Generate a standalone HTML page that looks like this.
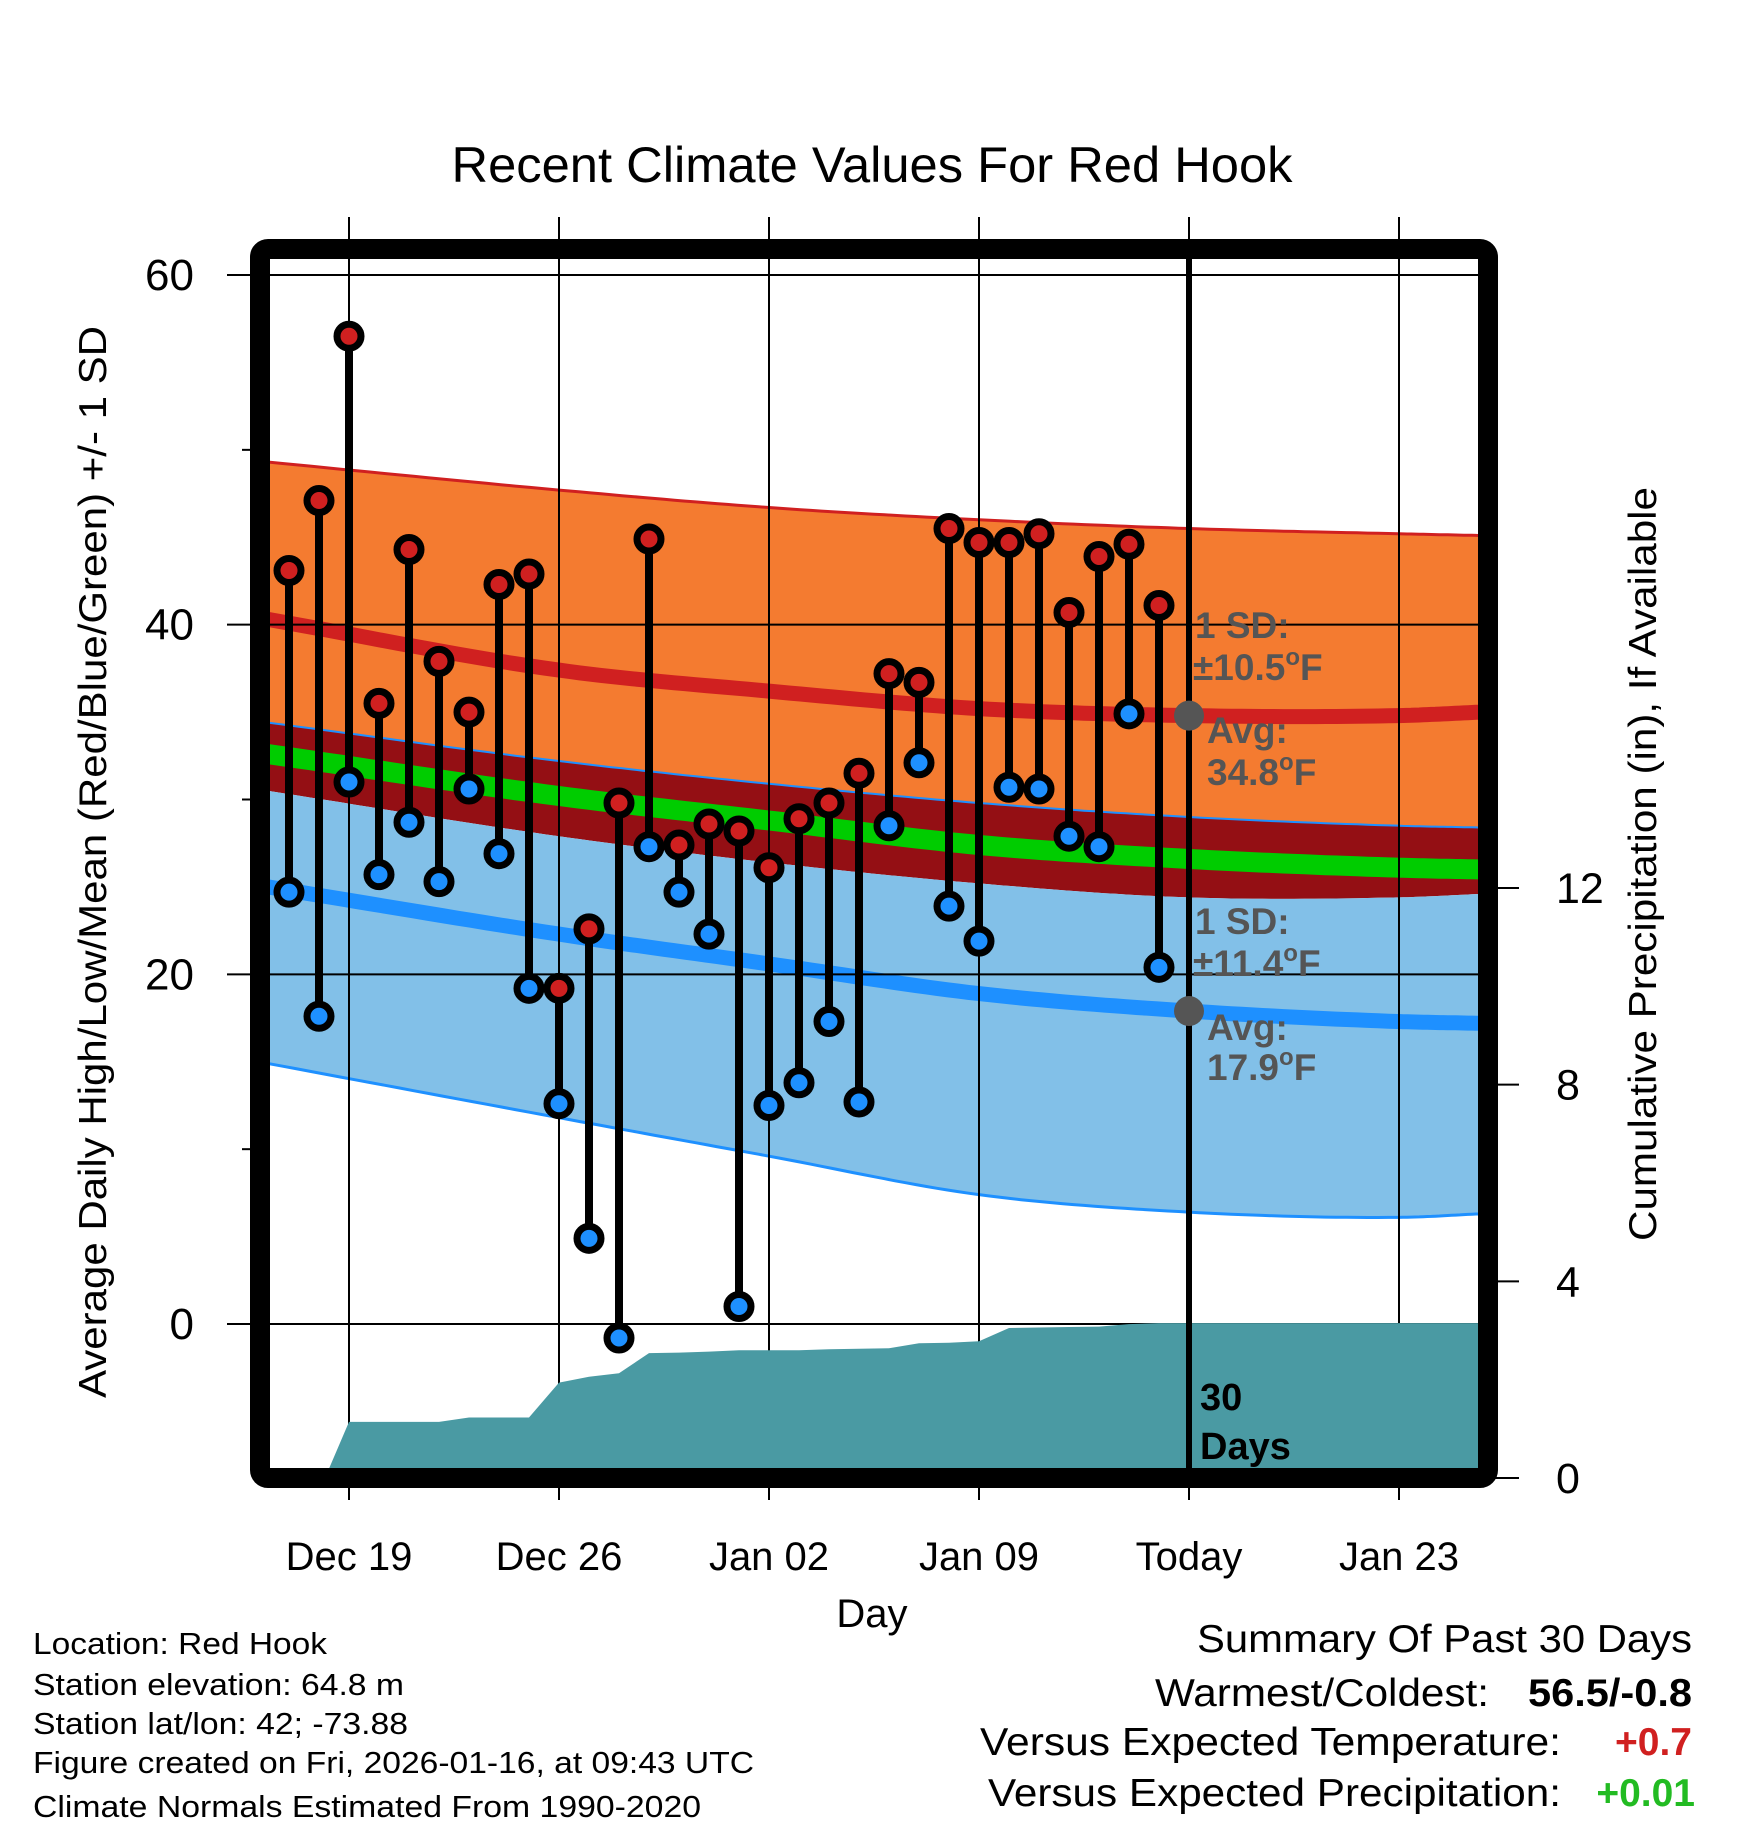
<!DOCTYPE html>
<html><head><meta charset="utf-8"><style>
html,body{margin:0;padding:0;background:#fff;}
svg{display:block;font-family:"Liberation Sans",sans-serif;}
</style></head><body>
<svg id="chart" width="1748" height="1828" viewBox="0 0 1748 1828" xmlns="http://www.w3.org/2000/svg">
<defs><clipPath id="plotclip"><rect x="270" y="260" width="1208" height="1208"/></clipPath></defs>
<g id="fills" clip-path="url(#plotclip)"></g>
<g id="grid"></g>
<g id="precip" clip-path="url(#plotclip)"></g>
<g id="marks"></g>
<rect x="260" y="249" width="1228" height="1229" rx="8" fill="none" stroke="#000" stroke-width="20"/>
<text x="872" y="182" font-size="50" text-anchor="middle" textLength="841" lengthAdjust="spacingAndGlyphs">Recent Climate Values For Red Hook</text>
<text transform="translate(106,862) rotate(-90)" font-size="39" text-anchor="middle" textLength="1072" lengthAdjust="spacingAndGlyphs">Average Daily High/Low/Mean (Red/Blue/Green) +/- 1 SD</text>
<text transform="translate(1656,864) rotate(-90)" font-size="39" text-anchor="middle" textLength="754" lengthAdjust="spacingAndGlyphs">Cumulative Precipitation (in), If Available</text>
<text x="872" y="1627" font-size="40" text-anchor="middle">Day</text>
<g font-size="31">
<text x="33" y="1654" textLength="294" lengthAdjust="spacingAndGlyphs">Location: Red Hook</text>
<text x="33" y="1695" textLength="371" lengthAdjust="spacingAndGlyphs">Station elevation: 64.8 m</text>
<text x="33" y="1734" textLength="375" lengthAdjust="spacingAndGlyphs">Station lat/lon: 42; -73.88</text>
<text x="33" y="1773" textLength="721" lengthAdjust="spacingAndGlyphs">Figure created on Fri, 2026-01-16, at 09:43 UTC</text>
<text x="33" y="1817" textLength="668" lengthAdjust="spacingAndGlyphs">Climate Normals Estimated From 1990-2020</text>
</g>
<g font-size="39" text-anchor="end">
<text x="1692" y="1652" textLength="495" lengthAdjust="spacingAndGlyphs">Summary Of Past 30 Days</text>
<text x="1489" y="1706" textLength="334" lengthAdjust="spacingAndGlyphs">Warmest/Coldest:</text>
<text x="1692" y="1706" font-weight="bold" textLength="164" lengthAdjust="spacingAndGlyphs">56.5/-0.8</text>
<text x="1561" y="1755" textLength="581" lengthAdjust="spacingAndGlyphs">Versus Expected Temperature:</text>
<text x="1692" y="1755" font-weight="bold" fill="#d02020">+0.7</text>
<text x="1561" y="1806" textLength="573" lengthAdjust="spacingAndGlyphs">Versus Expected Precipitation:</text>
<text x="1695" y="1806" font-weight="bold" fill="#22bb22">+0.01</text>
</g>
</svg>
<script>
// data: day offsets relative to Dec 19
const days = [-2,-1,0,1,2,3,4,5,6,7,8,9,10,11,12,13,14,15,16,17,18,19,20,21,22,23,24,25,26,27];
const highs = [43.1,47.1,56.5,35.5,44.3,37.9,35.0,42.3,42.9,19.2,22.6,29.8,44.9,27.4,28.6,28.2,26.1,28.9,29.8,31.5,37.2,36.7,45.5,44.7,44.7,45.2,40.7,43.9,44.6,41.1];
const lows = [24.7,17.6,31.0,25.7,28.7,25.3,30.6,26.9,19.2,12.6,4.9,-0.8,27.3,24.7,22.3,1.0,12.5,13.8,17.3,12.7,28.5,32.1,23.9,21.9,30.7,30.6,27.9,27.3,34.9,20.4];
const precip = [0,0,1.14,1.14,1.14,1.14,1.23,1.23,1.23,1.94,2.06,2.13,2.54,2.55,2.57,2.60,2.60,2.60,2.62,2.63,2.64,2.74,2.75,2.78,3.05,3.06,3.07,3.08,3.13,3.15];
const normDays = [-2.7,7,14,21,28,35,37.7];
const highSDup = [49.3,47.7,46.7,46.0,45.5,45.2,45.1];
const highAvg = [40.3,37.4,36.2,35.2,34.8,34.8,35.0];
const topDark = [34.4,32.2,30.9,29.8,29.0,28.5,28.4];
const meanLine = [32.6,30.2,28.8,27.4,26.6,26.1,26.0];
const lowSDup = [30.5,27.9,26.4,25.2,24.4,24.4,24.6];
const lowAvg = [25.0,22.3,20.6,18.9,17.9,17.3,17.2];
const lowSDdown = [14.9,11.8,9.6,7.4,6.4,6.1,6.3];
const xTickDays = [0,7,14,21,28,35];
const xTickLabels = ["Dec 19","Dec 26","Jan 02","Jan 09","Today","Jan 23"];
const yTicks = [0,20,40,60];
const yMinor = [10,30,50];
const pTicks = [0,4,8,12];
const todayDay = 28;
const todayHighAvg = 34.8, todayLowAvg = 17.9;

const NS = "http://www.w3.org/2000/svg";
const X = d => 349 + 30*d;
const Y = t => 1324 - 17.483*t;
const P = p => 1478 - 49.17*p;
function mk(tag, attrs, parent){const e=document.createElementNS(NS,tag);for(const k in attrs)e.setAttribute(k,attrs[k]);parent.appendChild(e);return e;}
const fills=document.getElementById('fills'), grid=document.getElementById('grid'), pg=document.getElementById('precip'), marks=document.getElementById('marks');

// monotone-ish smooth sampling (cubic Hermite with averaged slopes)
function sample(arr){
  const n=normDays.length, m=[];
  for(let i=0;i<n;i++){
    if(i===0) m.push((arr[1]-arr[0])/(normDays[1]-normDays[0]));
    else if(i===n-1) m.push((arr[n-1]-arr[n-2])/(normDays[n-1]-normDays[n-2]));
    else m.push(((arr[i]-arr[i-1])/(normDays[i]-normDays[i-1])+(arr[i+1]-arr[i])/(normDays[i+1]-normDays[i]))/2);
  }
  const pts=[];
  for(let i=0;i<n-1;i++){
    const h=normDays[i+1]-normDays[i];
    for(let s=0;s<20;s++){const t=s/20,t2=t*t,t3=t2*t;
      const v=(2*t3-3*t2+1)*arr[i]+(t3-2*t2+t)*h*m[i]+(-2*t3+3*t2)*arr[i+1]+(t3-t2)*h*m[i+1];
      pts.push([X(normDays[i]+h*t),Y(v)]);}
  }
  pts.push([X(normDays[n-1]),Y(arr[n-1])]);
  return pts;
}
const ptsStr = p => p.map(q=>q[0].toFixed(1)+','+q[1].toFixed(1)).join(' ');
function band(a,b,color,name){
  const pa=sample(a), pb=sample(b).reverse();
  const e=mk('polygon',{points:ptsStr(pa.concat(pb)),fill:color},fills);
  
  
}
function line(a,color,w,name){
  const e=mk('polyline',{points:ptsStr(sample(a)),fill:'none',stroke:color,'stroke-width':w},fills);
  
  
}
band(highSDup,topDark,'#f47b30','high-sd-band');
band(topDark,lowSDup,'#940f14','mean-band');
band(lowSDup,lowSDdown,'#82c0e8','low-sd-band');
line(meanLine,'#00cc00',20,'mean-line');
line(highSDup,'#d02020',3,'high-sd-upper-line');
line(topDark,'#1e90ff',2,'upper-dark-line');
line(lowSDdown,'#1e90ff',3,'low-sd-lower-line');
line(highAvg,'#d02020',15,'average-high-line');
line(lowAvg,'#1e90ff',15,'average-low-line');

// grid
xTickDays.forEach((d,i)=>{
  const l=mk('line',{x1:X(d),x2:X(d),y1:217,y2:1500,stroke:'#000','stroke-width':2},grid);
  
  
  const t=mk('text',{x:X(d),y:1570,'font-size':40,'text-anchor':'middle'},grid);
  t.textContent=xTickLabels[i];
  
  
});
yTicks.forEach(v=>{
  const l=mk('line',{x1:227,x2:1478,y1:Y(v),y2:Y(v),stroke:'#000','stroke-width':2},grid);
  
  
  const t=mk('text',{x:194,y:Y(v)+15,'font-size':44,'text-anchor':'end'},grid);
  t.textContent=v;
  
  
});
yMinor.forEach(v=>{
  const l=mk('line',{x1:242,x2:254,y1:Y(v),y2:Y(v),stroke:'#000','stroke-width':2},grid);
  
  
});
pTicks.forEach(v=>{
  const l=mk('line',{x1:1488,x2:1519,y1:P(v),y2:P(v),stroke:'#000','stroke-width':2},grid);
  
  
  const t=mk('text',{x:1556,y:P(v)+15,'font-size':43},grid);
  t.textContent=v;
  
  
});

// precipitation
{
  let pts=[[X(days[1])+6,P(0)]];
  for(let i=2;i<days.length;i++) pts.push([X(days[i]),P(precip[i])]);
  pts.push([1480,P(precip[precip.length-1])]);
  pts.push([1480,1480]);pts.push([X(days[1]),1480]);
  const e=mk('polygon',{points:ptsStr(pts),fill:'#4a9aa3'},pg);
  
  
}

// today line
{
  const e=mk('line',{x1:X(todayDay),x2:X(todayDay),y1:255,y2:1470,stroke:'#000','stroke-width':6},marks);
  
  
}

// stems and dots
days.forEach((d,i)=>{
  const s=mk('line',{x1:X(d),x2:X(d),y1:Y(highs[i]),y2:Y(lows[i]),stroke:'#000','stroke-width':8},marks);
  
  
});
days.forEach((d,i)=>{
  [[highs[i],'#d02020','high-point'],[lows[i],'#1e90ff','low-point']].forEach(q=>{
    const c=mk('circle',{cx:X(d),cy:Y(q[0]),r:12,fill:q[1],stroke:'#000','stroke-width':7},marks);
    
    
  });
});

// annotations
function ann(x,y,txt,name,bold,color,size){
  const t=mk('text',{x:x,y:y,'font-size':size||37,'font-weight':bold?'bold':'normal',fill:color||'#555'},marks);
  t.innerHTML=txt;
  
  
}
{
  const c1=mk('circle',{cx:X(todayDay),cy:Y(todayHighAvg),r:15,fill:'#555'},marks);
  
  
  const c2=mk('circle',{cx:X(todayDay),cy:Y(todayLowAvg),r:15,fill:'#555'},marks);
  
  
}
const deg='<tspan dy="-15" font-size="24">o</tspan><tspan dy="15">F</tspan>';
ann(1195,638,'1 SD:','high-sd-label',true);
ann(1193,680,'±10.5'+deg,'high-sd-value',true);
ann(1207,743,'Avg:','high-avg-label',true);
ann(1207,785,todayHighAvg+deg,'high-avg-value',true);
ann(1195,934,'1 SD:','low-sd-label',true);
ann(1193,976,'±11.4'+deg,'low-sd-value',true);
ann(1207,1040,'Avg:','low-avg-label',true);
ann(1207,1080,todayLowAvg+deg,'low-avg-value',true);
ann(1200,1410,'30','days-count-label',true,'#000',38);
ann(1200,1459,'Days','days-label',true,'#000',38);
</script>
</body></html>
